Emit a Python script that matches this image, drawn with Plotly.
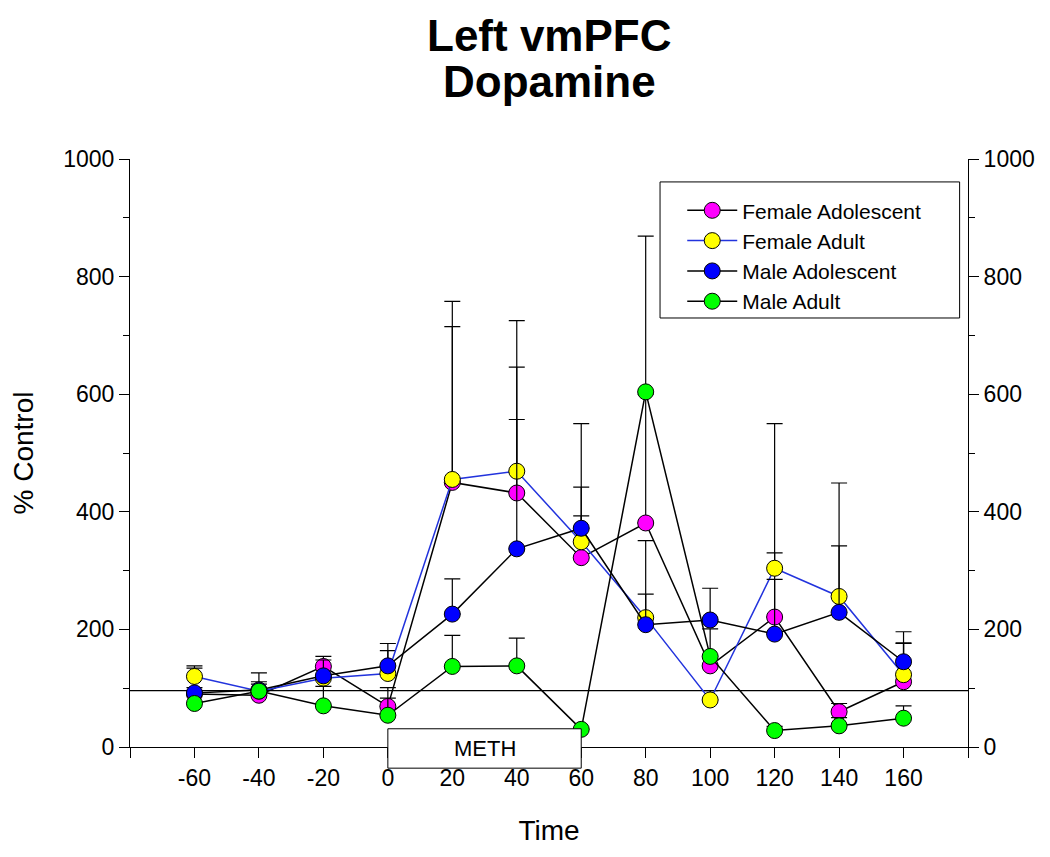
import plotly.graph_objects as go

# ---------------- data ----------------
time = [-60, -40, -20, 0, 20, 40, 60, 80, 100, 120, 140, 160]
series_names = ["Female Adolescent", "Female Adult", "Male Adolescent", "Male Adult"]

female_adolescent = [90, 88, 137, 69, 450, 432, 322, 381, 138, 221, 60, 111]
female_adolescent_err = [44, 19, 17, 32, 265, 214, 120, 219, 0, 109, 14, 65]

female_adult = [120, 95, 117, 125, 455, 469, 349, 220, 80, 304, 256, 123]
female_adult_err = [18, 31, 31, 39, 303, 256, 201, 131, 16, 246, 193, 54]

male_adolescent = [92, 97, 121, 138, 226, 337, 372, 208, 216, 192, 229, 145]
male_adolescent_err = [9, 14, 0, 38, 60, 220, 21, 52, 54, 93, 113, 51]

male_adult = [74, 95, 70, 54, 137, 138, 30, 604, 154, 28, 36, 49]
male_adult_err = [0, 0, 33, 29, 53, 47, 0, 265, 47, 7, 14, 21]

x_tick_vals = [-80, -60, -40, -20, 0, 20, 40, 60, 80, 100, 120, 140, 160, 180]
x_tick_text = ["", "-60", "-40", "-20", "0", "20", "40", "60", "80", "100", "120", "140", "160", ""]
y_range = [0, 1000]
x_range = [-80, 180]
baseline = 96
meth_start, meth_end = 0, 60
meth_label = "METH"
title_lines = ["Left vmPFC", "Dopamine"]

# ---------------- styles ----------------
FONT = "Liberation Sans, Arial, sans-serif"
marker_colors = ["#ff00ff", "#ffff00", "#0000ff", "#00ff00"]
line_colors = ["#000000", "#2233dd", "#000000", "#000000"]

values = [female_adolescent, female_adult, male_adolescent, male_adult]
errors = [female_adolescent_err, female_adult_err, male_adolescent_err, male_adult_err]

fig = go.Figure()
for name, vals, errs, mc, lc in zip(series_names, values, errors, marker_colors, line_colors):
    fig.add_trace(go.Scatter(
        x=time, y=vals, name=name, mode="lines+markers",
        line=dict(color=lc, width=1.5),
        marker=dict(color=mc, size=16, line=dict(color="black", width=1)),
        error_y=dict(type="data", symmetric=False, array=errs,
                     arrayminus=[0] * len(errs), color="black",
                     thickness=1.2, width=8),
    ))

# invisible trace to activate right axis
fig.add_trace(go.Scatter(x=time, y=male_adult, yaxis="y2", mode="markers",
                         marker=dict(opacity=0), showlegend=False, hoverinfo="skip"))

# reference line
fig.add_shape(type="line", xref="paper", x0=0, x1=1, yref="y", y0=baseline, y1=baseline,
              line=dict(color="black", width=1.2), layer="below")

# METH box
fig.add_shape(type="rect", xref="x", x0=meth_start, x1=meth_end,
              yref="paper", y0=-0.036, y1=0.031,
              line=dict(color="black", width=1), fillcolor="white", layer="above")
fig.add_annotation(x=(meth_start + meth_end) / 2, xref="x", y=-0.0025, yref="paper",
                   yanchor="middle", xanchor="center",
                   text=meth_label, showarrow=False,
                   font=dict(family=FONT, size=22, color="black"))

# title (two tightly spaced lines)
for line_text, ypos in zip(title_lines, [1.210, 1.132]):
    fig.add_annotation(x=0.5, xref="paper", y=ypos, yref="paper",
                       xanchor="center", yanchor="middle", showarrow=False,
                       text="<b>" + line_text + "</b>",
                       font=dict(family=FONT, size=44, color="black"))

# legend frame
fig.add_shape(type="rect", xref="paper", yref="paper",
              x0=0.6325, x1=0.990, y0=0.7296, y1=0.961,
              line=dict(color="black", width=1), fillcolor="rgba(0,0,0,0)", layer="above")

axis_common = dict(showline=True, linecolor="black", linewidth=1, showgrid=False,
                   zeroline=False, ticks="outside", tickcolor="black", ticklen=10,
                   automargin=False,
                   tickfont=dict(family=FONT, size=23, color="black"))

fig.update_layout(
    width=1050, height=857,
    margin=dict(l=122, r=90, t=151, b=118),
    paper_bgcolor="white", plot_bgcolor="white",
    xaxis=dict(range=x_range, tickmode="array", tickvals=x_tick_vals, ticktext=x_tick_text,
               title=dict(text="Time", font=dict(family=FONT, size=28, color="black"), standoff=30),
               **axis_common),
    yaxis=dict(range=y_range, dtick=200, tick0=0,
               minor=dict(dtick=100, ticks="outside", ticklen=6, tickcolor="black"),
               title=dict(text="% Control", font=dict(family=FONT, size=28, color="black"), standoff=28),
               **axis_common),
    yaxis2=dict(range=y_range, dtick=200, tick0=0, overlaying="y", side="right",
                minor=dict(dtick=100, ticks="outside", ticklen=6, tickcolor="black"),
                **axis_common),
    showlegend=True,
    legend=dict(x=0.659, y=0.947, xanchor="left", yanchor="top",
                bgcolor="rgba(0,0,0,0)", borderwidth=0, itemwidth=50,
                font=dict(family=FONT, size=21, color="black"), tracegroupgap=0),
)

fig.write_html("out.html")
